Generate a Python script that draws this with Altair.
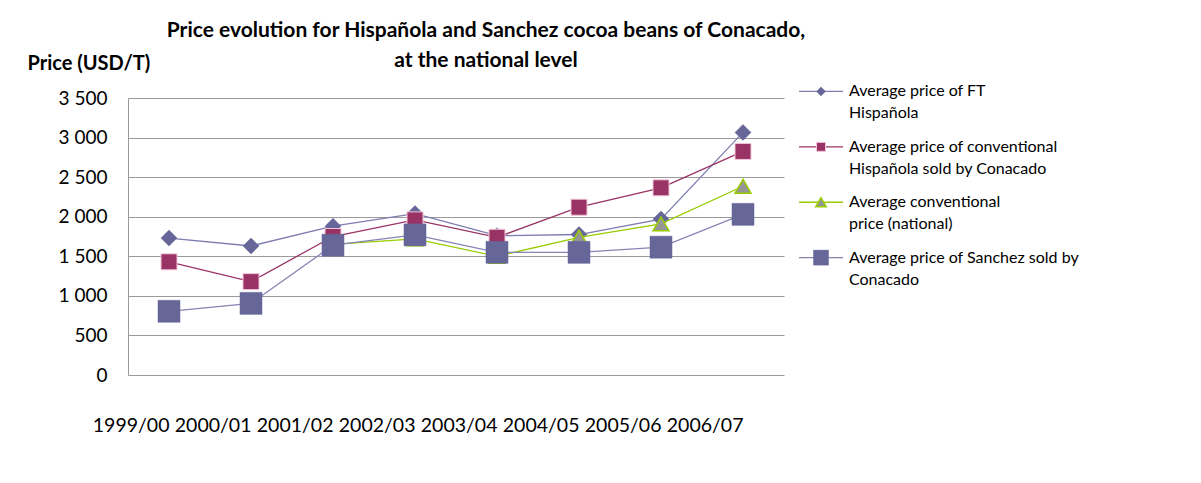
import altair as alt
import pandas as pd

FONT = "Lato"

years = ["1999/00", "2000/01", "2001/02", "2002/03", "2003/04", "2004/05", "2005/06", "2006/07"]

series_names = [
    "Average price of FT Hispañola",
    "Average price of conventional Hispañola sold by Conacado",
    "Average conventional price (national)",
    "Average price of Sanchez sold by Conacado",
]
legend_labels = [
    ["Average price of FT", "Hispañola"],
    ["Average price of conventional", "Hispañola sold by Conacado"],
    ["Average conventional", "price (national)"],
    ["Average price of Sanchez sold by", "Conacado"],
]

ft_hispanola = [1730, 1630, 1880, 2040, 1760, 1775, 1970, 3065]
conv_hispanola = [1430, 1180, 1750, 1960, 1740, 2120, 2365, 2825]
national_conv = [None, None, 1650, 1720, 1500, 1740, 1910, 2385]
sanchez = [805, 905, 1640, 1770, 1550, 1550, 1615, 2030]

y_ticks = [0, 500, 1000, 1500, 2000, 2500, 3000, 3500]

values_by_series = [ft_hispanola, conv_hispanola, national_conv, sanchez]

rows = []
for name, vals in zip(series_names, values_by_series):
    for yr, v in zip(years, vals):
        if v is not None:
            rows.append({"series": name, "year": yr, "value": v})
df = pd.DataFrame(rows)

styles = [
    dict(line="#7c7cb0", shape="diamond", size=256, fill="#666699", stroke="#666699", sw=0.5, lsize=81),
    dict(line="#993366", shape="square", size=256, fill="#993366", stroke="#f2c6d8", sw=1, lsize=81),
    dict(line="#99cc00", shape="triangle-up", size=256, fill="#969696", stroke="#99cc00", sw=1.5, lsize=110),
    dict(line="#8585b5", shape="square", size=484, fill="#666699", stroke="#666699", sw=0.5, lsize=225),
]

x_enc = alt.X(
    "year:N", sort=years,
    axis=alt.Axis(title=None, labelAlign="right", labelAngle=0, labelPadding=41,
                  labelFontSize=19.5, labelFont=FONT, labelColor="black",
                  domain=False, ticks=False, grid=False),
)
y_enc = alt.Y(
    "value:Q",
    scale=alt.Scale(domain=[0, 3500], nice=False),
    axis=alt.Axis(values=y_ticks,
                  labelExpr="replace(format(datum.value, ','), ',', ' ')",
                  labelFontSize=19, labelFont=FONT, labelColor="black", labelPadding=21,
                  ticks=False, domainColor="#9a9a9a", gridColor="#9a9a9a",
                  title="Price (USD/T)", titleAngle=0, titleAlign="left", titleBaseline="middle",
                  titleX=-101, titleY=-35, titleFont=FONT, titleFontSize=20,
                  titleFontWeight="bold", titleColor="black"),
)

layers = []
for name, st in zip(series_names, styles):
    b = alt.Chart(df).transform_filter(alt.datum.series == name)
    layers.append(b.mark_line(color=st["line"], strokeWidth=1.3).encode(x=x_enc, y=y_enc))
    layers.append(
        b.mark_point(shape=st["shape"], size=st["size"], filled=True, fill=st["fill"],
                     stroke=st["stroke"], strokeWidth=st["sw"], opacity=1)
        .encode(x=x_enc, y=y_enc)
    )

main = alt.layer(*layers).properties(
    width=656, height=277,
    title=alt.TitleParams(
        text=["Price evolution for Hispañola and Sanchez cocoa beans of Conacado,", "at the national level"],
        font=FONT, fontSize=21, fontWeight="bold", color="black", lineHeight=30,
        anchor="middle", dx=30, offset=-18, frame="group",
    ),
)

leg_df = pd.DataFrame({"series": series_names, "label": ["\n".join(l) for l in legend_labels]})
ly = alt.Y("series:N", sort=series_names, axis=None,
           scale=alt.Scale(type="point", padding=1.03, align=0.04))

leg_layers = []
for name, st in zip(series_names, styles):
    b = alt.Chart(leg_df).transform_filter(alt.datum.series == name)
    leg_layers.append(b.mark_rule(color=st["line"], strokeWidth=1.3, yOffset=-11)
                      .encode(x=alt.value(0), x2=alt.value(44), y=ly))
    leg_layers.append(
        b.mark_point(shape=st["shape"], size=st["lsize"], filled=True, fill=st["fill"],
                     stroke=st["stroke"], strokeWidth=st["sw"], opacity=1, yOffset=-11)
        .encode(x=alt.value(22), y=ly)
    )
leg_layers.append(
    alt.Chart(leg_df).mark_text(align="left", baseline="middle", lineBreak="\n", fontSize=16,
                                lineHeight=22, font=FONT, color="black", yOffset=-11)
    .encode(x=alt.value(50), y=ly, text="label:N")
)
legend = alt.layer(*leg_layers).properties(width=330, height=277)

chart = alt.hconcat(main, legend, spacing=15, bounds="flush").properties(
    padding={"left": 27, "top": 20, "right": 5, "bottom": 5},
    background="white",
).configure_view(stroke=None)

chart.save("out.html", embed_options={"renderer": "svg", "actions": False})
